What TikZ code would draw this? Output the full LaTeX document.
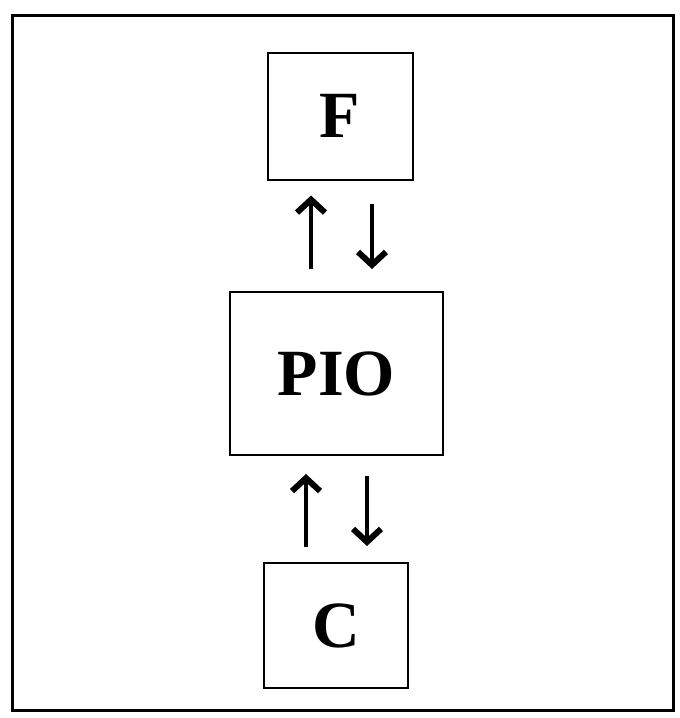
\documentclass[tikz,border=0pt]{standalone}
\usepackage{fontspec}
\setmainfont{Liberation Serif}
\usetikzlibrary{arrows.meta}
\begin{document}
\begin{tikzpicture}[x=1pt,y=-1pt,
  box/.style={draw=black,line width=2pt,minimum width=#1,inner sep=0pt,
    font=\fontsize{66}{76}\selectfont\bfseries},
  arrw/.style={line width=4.5pt,-{Straight Barb[length=13pt,width=28pt,line width=6pt]}}]
\useasboundingbox (0,0) rectangle (680,718);
\draw[line width=3pt] (12,15) rectangle (673,710);
\node[box=145pt,minimum height=127pt] (f) at (340,116) {F};
\node[box=213pt,minimum height=163pt] (pio) at (336.5,373.5) {PIO};
\node[box=144pt,minimum height=125pt] (c) at (336,625.5) {C};
\coordinate (u1) at (311,0);
\coordinate (d1) at (372,0);
\coordinate (u2) at (306,0);
\coordinate (d2) at (367,0);
\draw[arrw,shorten <=22pt,shorten >=15pt] (pio.north -| u1) -- (f.south -| u1);
\draw[arrw,shorten <=23pt,shorten >=22pt] (f.south -| d1) -- (pio.north -| d1);
\draw[arrw,shorten <=15pt,shorten >=18pt] (c.north -| u2) -- (pio.south -| u2);
\draw[arrw,shorten <=20pt,shorten >=16pt] (pio.south -| d2) -- (c.north -| d2);
\end{tikzpicture}
\end{document}
